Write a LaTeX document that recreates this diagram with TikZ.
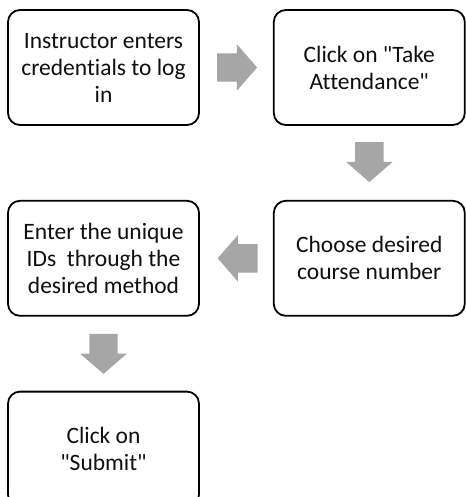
\documentclass[tikz,border=0pt]{standalone}
\usepackage{fontspec}
\setmainfont{Carlito}[Ligatures={TeXOff,NoCommon}]
\usepackage{xcolor}
\definecolor{arrowgray}{RGB}{166,166,166}
\definecolor{textgray}{RGB}{15,15,15}
\usepackage{tikz}
\usetikzlibrary{shapes,arrows.meta,positioning,calc}

\begin{document}
\begin{tikzpicture}[x=1pt, y=1pt,
  node distance=74pt and 73pt,
  stepbox/.style={rectangle, rounded corners=12pt, draw=black, line width=1.8pt,
                 minimum width=191pt, minimum height=115pt, fill=white,
                 align=center, text=textgray,
                 font=\fontsize{23.5}{27}\selectfont},
  fatarr/.style={single arrow, fill=arrowgray, draw=none, anchor=tail,
                 inner xsep=0pt, inner ysep=14pt, minimum height=40pt,
                 single arrow head extend=9pt, single arrow tip angle=98}
]
\useasboundingbox (0,0) rectangle (465,-497);

\node[stepbox] (login) at (103.5,-67.5) {Instructor enters\\credentials to log\\in};
\node[stepbox, right=of login]  (take)   {Click on "Take\\Attendance"};
\node[stepbox, below=of take]   (course) {Choose desired\\course number};
\node[stepbox, left=of course]  (ids)    {Enter the unique\\IDs\ \ through the\\desired method};
\node[stepbox, below=of ids]    (submit) {Click on\\"Submit"};

%% arrows
\node[fatarr] (a1) at ([xshift=17pt]login.east) {};
\node[fatarr, rotate=-90] (a2) at ([yshift=-16pt]take.south) {};
\node[fatarr, rotate=180] (a3) at ([xshift=-15pt]course.west) {};
\node[fatarr, rotate=-90] (a4) at ([yshift=-17pt]ids.south) {};

\end{tikzpicture}
\end{document}
